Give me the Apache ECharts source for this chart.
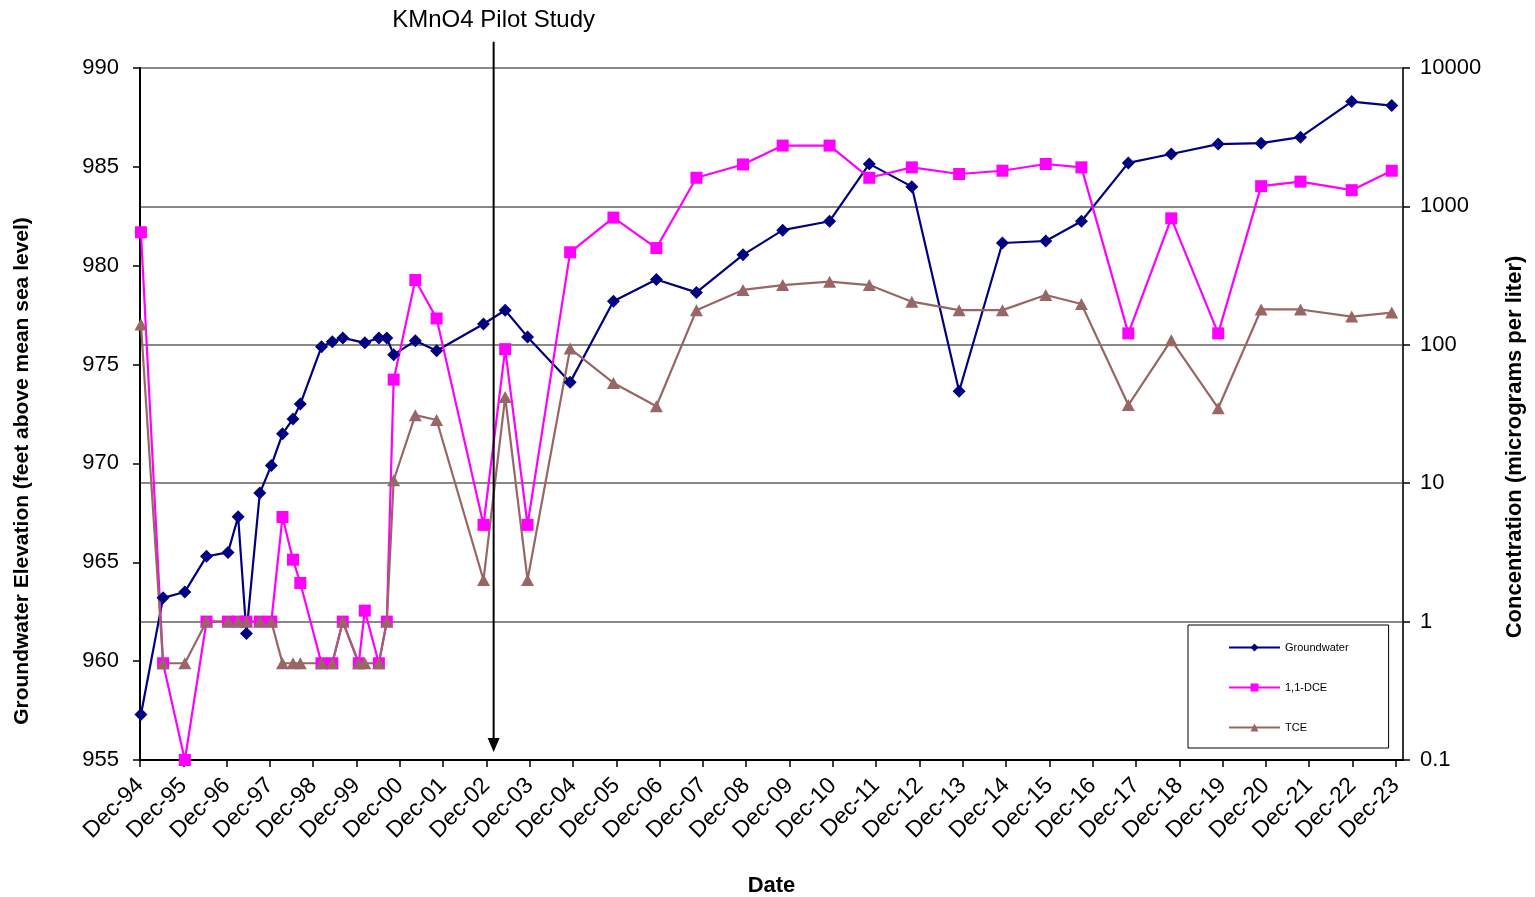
<!DOCTYPE html>
<html>
<head>
<meta charset="utf-8">
<script src="https://cdn.jsdelivr.net/npm/echarts@6/dist/echarts.min.js"></script>
<style>
html,body{margin:0;padding:0;background:#fff;}
#chart{width:1535px;height:897px;}
</style>
</head>
<body>
<div id="chart"></div>
<script>
// ---- data ----
const gwDates = ['1994-12-09','1995-06-13','1995-12-14','1996-06-14','1996-12-13','1997-03-07','1997-05-16','1997-09-07','1997-12-13','1998-03-16','1998-06-13','1998-08-14','1999-02-10','1999-05-10','1999-08-07','2000-02-10','2000-06-07','2000-08-13','2000-10-10','2001-04-10','2001-10-07','2002-11-07','2003-05-07','2003-11-13','2004-11-07','2005-11-07','2006-11-04','2007-10-07','2008-11-04','2009-10-04','2010-11-04','2011-10-04','2012-09-28','2013-11-01','2014-11-01','2015-11-01','2016-08-28','2017-09-28','2018-09-25','2019-10-25','2020-10-22','2021-09-19','2022-11-25','2023-10-28'];
const gwValues = [957.3,963.2,963.5,965.3,965.5,967.3,961.4,968.5,969.9,971.5,972.25,973.0,975.9,976.15,976.35,976.1,976.35,976.35,975.5,976.2,975.7,977.05,977.75,976.4,974.1,978.2,979.3,978.65,980.55,981.8,982.25,985.15,984.0,973.65,981.15,981.25,982.25,985.2,985.65,986.15,986.2,986.5,988.3,988.1];

const chemDates = ['1994-12-09','1995-06-13','1995-12-14','1996-06-14','1996-12-13','1997-03-07','1997-05-16','1997-09-07','1997-12-13','1998-03-16','1998-06-13','1998-08-14','1999-02-10','1999-05-10','1999-08-07','1999-12-20','2000-02-10','2000-06-07','2000-08-13','2000-10-10','2001-04-10','2001-10-07','2002-11-07','2003-05-07','2003-11-13','2004-11-07','2005-11-07','2006-11-04','2007-10-07','2008-11-04','2009-10-04','2010-11-04','2011-10-04','2012-09-28','2013-11-01','2014-11-01','2015-11-01','2016-08-28','2017-09-28','2018-09-25','2019-10-25','2020-10-22','2021-09-19','2022-11-25','2023-10-28'];
const dceValues = [650,0.5,0.1,1,1,1,1,1,1,5.7,2.8,1.9,0.5,0.5,1,0.5,1.2,0.5,1,56,294,155,5,93,5,466,830,500,1610,2010,2750,2750,1610,1915,1715,1810,2025,1915,121,820,121,1400,1510,1310,1810];
const tceValues = [140,0.5,0.5,1,1,1,1,1,1,0.5,0.5,0.5,0.5,0.5,1,0.5,0.5,0.5,1,10.5,31,28.6,2,42,2,94,53,36,178,249,270,286,270,205,178,178,229,197,36.7,108,34.8,180,180,160,171];

const tickLabels = ['Dec-94','Dec-95','Dec-96','Dec-97','Dec-98','Dec-99','Dec-00','Dec-01','Dec-02','Dec-03','Dec-04','Dec-05','Dec-06','Dec-07','Dec-08','Dec-09','Dec-10','Dec-11','Dec-12','Dec-13','Dec-14','Dec-15','Dec-16','Dec-17','Dec-18','Dec-19','Dec-20','Dec-21','Dec-22','Dec-23'];
const pilotDate = '2003-02-01';
const pilotLabel = 'KMnO4 Pilot Study';

// months since Dec 1994
function toMonths(s){
  const p = s.split('-').map(Number);
  return (p[0]-1994)*12 + (p[1]-12) + (p[2]-1)/30.5;
}
const tickMonths = tickLabels.map((_,i)=>i*12);

const FONT = '"Liberation Sans", Arial, sans-serif';
const chart = echarts.init(document.getElementById('chart'), null, {renderer:'canvas'});

const option = {
  animation:false,
  backgroundColor:'#fff',
  textStyle:{fontFamily:FONT},
  grid:{left:140, right:132, top:68, bottom:137, containLabel:false, outerBoundsMode:'none'},
  legend:{
    orient:'vertical', left:1188, top:625,
    data:['Groundwater','1,1-DCE','TCE'],
    itemWidth:51, itemHeight:10, itemGap:29,
    padding:[17,40,15,40],
    borderColor:'#000', borderWidth:1,
    textStyle:{fontFamily:FONT, fontSize:11, color:'#000'}
  },
  xAxis:{
    type:'value', min:0, max:350,
    name:'Date', nameLocation:'middle', nameGap:115,
    nameTextStyle:{fontFamily:FONT, fontSize:22, fontWeight:'bold', color:'#000'},
    axisLine:{show:true, onZero:false, lineStyle:{color:'#000', width:2}},
    axisTick:{show:true, customValues:tickMonths, length:7, lineStyle:{color:'#000', width:1.5}},
    axisLabel:{customValues:tickMonths, rotate:45, margin:22, fontSize:23, color:'#000', fontFamily:FONT,
      formatter:function(v){ return tickLabels[Math.round(v/12)]; }},
    splitLine:{show:false}
  },
  yAxis:[
    {
      type:'value', min:955, max:990, interval:5, position:'left',
      axisLine:{show:true, lineStyle:{color:'#000', width:2}},
      axisTick:{show:true, length:7, lineStyle:{color:'#000', width:1.5}},
      axisLabel:{fontSize:22, color:'#000', margin:21, fontFamily:FONT},
      splitLine:{show:false}
    },
    {
      type:'log', logBase:10, min:0.1, max:10000, position:'right',
      axisLine:{show:true, lineStyle:{color:'#333', width:2}},
      axisTick:{show:true, length:7, lineStyle:{color:'#000', width:1.5}},
      axisLabel:{fontSize:22, color:'#000', margin:17, fontFamily:FONT,
        formatter:function(v){ return String(+v.toPrecision(6)); }},
      splitLine:{show:true, lineStyle:{color:'#888', width:2}},
      minorTick:{show:false}
    }
  ],
  series:[
    {
      name:'Groundwater', type:'line', yAxisIndex:0,
      data: gwDates.map((d,i)=>[toMonths(d), gwValues[i]]),
      symbol:'diamond', symbolSize:13,
      lineStyle:{color:'#000080', width:2.2},
      itemStyle:{color:'#000080'},
      clip:false
    },
    {
      name:'1,1-DCE', type:'line', yAxisIndex:1,
      data: chemDates.map((d,i)=>[toMonths(d), dceValues[i]]),
      symbol:'rect', symbolSize:12,
      lineStyle:{color:'#FF00FF', width:2.2},
      itemStyle:{color:'#FF00FF'},
      clip:false
    },
    {
      name:'TCE', type:'line', yAxisIndex:1,
      data: chemDates.map((d,i)=>[toMonths(d), tceValues[i]]),
      symbol:'triangle', symbolSize:[13,12],
      lineStyle:{color:'#996666', width:2.2},
      itemStyle:{color:'#996666'},
      clip:false
    }
  ]
};
chart.setOption(option);

// annotation + rotated axis titles, positioned via the library's own scales
const px = toMonths(pilotDate);
const pTop = chart.convertToPixel({xAxisIndex:0, yAxisIndex:0}, [px, 991.33]);
const pBot = chart.convertToPixel({xAxisIndex:0, yAxisIndex:0}, [px, 955.4]);
const arrowH = 14, arrowW = 12;
chart.setOption({
  graphic:[
    {type:'line', shape:{x1:pTop[0], y1:pTop[1], x2:pBot[0], y2:pBot[1]-arrowH+2}, style:{stroke:'#000', lineWidth:2}, z:100},
    {type:'polygon', shape:{points:[[pBot[0]-arrowW/2, pBot[1]-arrowH],[pBot[0]+arrowW/2, pBot[1]-arrowH],[pBot[0], pBot[1]]]}, style:{fill:'#000'}, z:100},
    {type:'text', x:pTop[0], y:pTop[1]-21, style:{text:pilotLabel, fontSize:24, fontFamily:FONT, fill:'#000', align:'center', verticalAlign:'middle'}, z:100},
    {type:'text', x:22, y:471, rotation:Math.PI/2, style:{text:'Groundwater Elevation (feet above mean sea level)', fontSize:21, fontWeight:'bold', fontFamily:FONT, fill:'#000', align:'center', verticalAlign:'middle'}},
    {type:'text', x:1515, y:447, rotation:Math.PI/2, style:{text:'Concentration (micrograms per liter)', fontSize:22, fontWeight:'bold', fontFamily:FONT, fill:'#000', align:'center', verticalAlign:'middle'}}
  ]
});
</script>
</body>
</html>
